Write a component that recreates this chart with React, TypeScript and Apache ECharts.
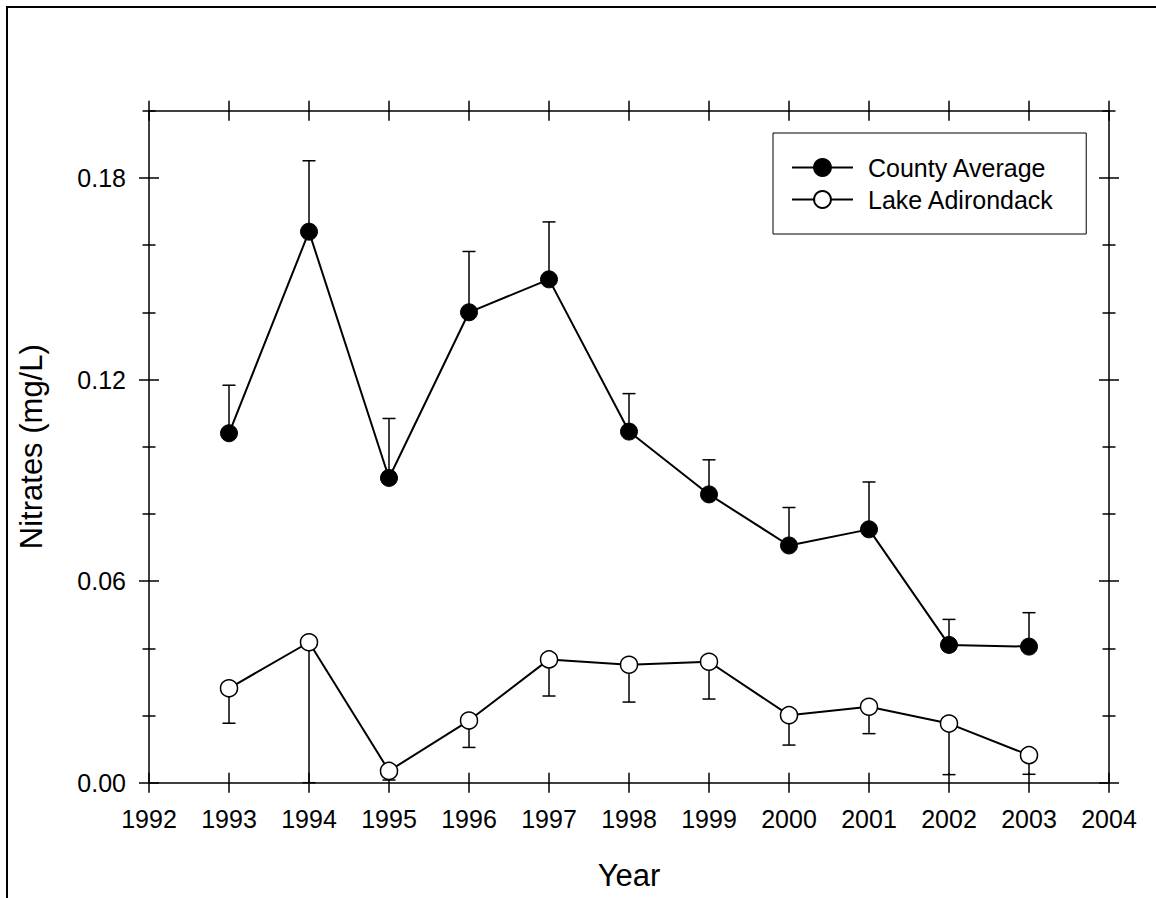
import React, { useEffect, useRef } from "react";
import * as echarts from "echarts";

const years = [1993, 1994, 1995, 1996, 1997, 1998, 1999, 2000, 2001, 2002, 2003];
const countyAvg = [0.104, 0.164, 0.0907, 0.14, 0.1498, 0.1045, 0.0858, 0.0706, 0.0754, 0.041, 0.0405];
const countyUpper = [0.1183, 0.1851, 0.1084, 0.1581, 0.1669, 0.1158, 0.0961, 0.0819, 0.0895, 0.0486, 0.0506];
const lakeAdk = [0.0281, 0.0418, 0.0035, 0.0185, 0.0367, 0.0351, 0.036, 0.0201, 0.0226, 0.0176, 0.0082];
const lakeLower = [0.0177, 0, 0.0008, 0.0105, 0.0258, 0.024, 0.0249, 0.0112, 0.0146, 0.0024, 0.0025];
const yMajorTicks = [0, 0.06, 0.12, 0.18];
const yMinorTicks = [0.02, 0.04, 0.08, 0.1, 0.14, 0.16, 0.2];

const FONT = "'Liberation Sans', Arial, sans-serif";

export default function App() {
  const ref = useRef<HTMLDivElement>(null);
  useEffect(() => {
    if (!ref.current) return;
    const chart = echarts.init(ref.current, null, { renderer: "svg" });
    const lineCol = "#000";
    const gridRect = { left: 149, right: 47, top: 110.7, bottom: 115.3, containLabel: false };
    const baseX = (g: number) => ({ type: "value", min: 1992, max: 2004, interval: 1, gridIndex: g, splitLine: { show: false } });
    const baseY = (g: number) => ({ type: "value", min: 0, max: 0.2, gridIndex: g, splitLine: { show: false } });
    const axLine = { show: true, onZero: false, lineStyle: { color: lineCol, width: 1.5 } };
    const noLine = { show: false, onZero: false };
    const noTick = { show: false };
    const noLabel = { show: false };
    const tickStyle = { color: lineCol, width: 1.5 };
    const errRender = (params: any, api: any) => {
      const x = api.value(0);
      const p0 = api.coord([x, api.value(1)]);
      const p1 = api.coord([x, api.value(2)]);
      const st = { stroke: lineCol, lineWidth: 1.5 };
      return {
        type: "group",
        children: [
          { type: "line", shape: { x1: p0[0], y1: p0[1], x2: p1[0], y2: p1[1] }, style: st },
          { type: "line", shape: { x1: p1[0] - 6.5, y1: p1[1], x2: p1[0] + 6.5, y2: p1[1] }, style: st },
        ],
      };
    };
    chart.setOption({
      animation: false,
      backgroundColor: "#fff",
      textStyle: { fontFamily: FONT },
      grid: [gridRect, gridRect, gridRect],
      graphic: [
        {
          type: "rect",
          shape: { x: 7, y: 7, width: 1300, height: 1100 },
          style: { fill: "none", stroke: "#000", lineWidth: 2 },
          silent: true,
        },
      ],
      legend: {
        orient: "vertical",
        left: 773,
        top: 133,
        padding: [22, 32, 22, 18],
        itemWidth: 61,
        itemHeight: 21,
        itemGap: 7,
        borderColor: "#000",
        borderWidth: 1,
        backgroundColor: "#fff",
        textStyle: { fontSize: 25, color: "#000", fontFamily: FONT, padding: [0, 0, 0, 10] },
        data: ["County Average", "Lake Adirondack"],
      },
      xAxis: [
        {
          ...baseX(0),
          position: "bottom",
          axisLine: axLine,
          axisTick: noTick,
          axisLabel: {
            show: true,
            fontSize: 25,
            color: "#000",
            margin: 24,
            fontFamily: FONT,
            formatter: (v: number) => String(v),
          },
          name: "Year",
          nameLocation: "middle",
          nameGap: 77,
          nameTextStyle: { fontSize: 31, color: "#000", fontFamily: FONT },
        },
        { ...baseX(0), position: "top", axisLine: axLine, axisTick: noTick, axisLabel: noLabel },
        {
          ...baseX(1),
          position: "bottom",
          offset: 10,
          axisLine: noLine,
          axisTick: { show: true, inside: true, length: 20, lineStyle: tickStyle },
          axisLabel: noLabel,
        },
        {
          ...baseX(1),
          position: "top",
          offset: 10,
          axisLine: noLine,
          axisTick: { show: true, inside: true, length: 20, lineStyle: tickStyle },
          axisLabel: noLabel,
        },
        { ...baseX(2), position: "bottom", show: false, axisLine: noLine },
      ],
      yAxis: [
        {
          ...baseY(0),
          position: "left",
          axisLine: axLine,
          axisTick: noTick,
          axisLabel: {
            show: true,
            fontSize: 25,
            color: "#000",
            margin: 23,
            fontFamily: FONT,
            customValues: yMajorTicks,
            formatter: (v: number) => v.toFixed(2),
          },
          name: "Nitrates (mg/L)",
          nameLocation: "middle",
          nameRotate: 90,
          nameGap: 102,
          nameTextStyle: { fontSize: 31, color: "#000", fontFamily: FONT },
        },
        { ...baseY(0), position: "right", axisLine: axLine, axisTick: noTick, axisLabel: noLabel },
        {
          ...baseY(1),
          position: "left",
          offset: 10,
          axisLine: noLine,
          axisTick: { show: true, inside: true, length: 20, customValues: yMajorTicks, lineStyle: tickStyle },
          axisLabel: noLabel,
        },
        {
          ...baseY(1),
          position: "right",
          offset: 10,
          axisLine: noLine,
          axisTick: { show: true, inside: true, length: 20, customValues: yMajorTicks, lineStyle: tickStyle },
          axisLabel: noLabel,
        },
        {
          ...baseY(2),
          position: "left",
          offset: 6.5,
          axisLine: noLine,
          axisTick: { show: true, inside: true, length: 13, customValues: yMinorTicks, lineStyle: tickStyle },
          axisLabel: noLabel,
        },
        {
          ...baseY(2),
          position: "right",
          offset: 6.5,
          axisLine: noLine,
          axisTick: { show: true, inside: true, length: 13, customValues: yMinorTicks, lineStyle: tickStyle },
          axisLabel: noLabel,
        },
      ],
      series: [
        {
          type: "custom",
          name: "County error",
          xAxisIndex: 0,
          yAxisIndex: 0,
          renderItem: errRender,
          data: years.map((y, i) => [y, countyAvg[i], countyUpper[i]]),
          z: 1,
          silent: true,
        },
        {
          type: "custom",
          name: "Lake error",
          xAxisIndex: 0,
          yAxisIndex: 0,
          renderItem: errRender,
          data: years.map((y, i) => [y, lakeAdk[i], lakeLower[i]]),
          z: 1,
          silent: true,
        },
        {
          type: "line",
          name: "County Average",
          xAxisIndex: 0,
          yAxisIndex: 0,
          data: years.map((y, i) => [y, countyAvg[i]]),
          symbol: "circle",
          symbolSize: 17,
          showAllSymbol: true,
          lineStyle: { color: "#000", width: 2 },
          itemStyle: { color: "#000", borderColor: "#000", borderWidth: 1 },
          z: 3,
        },
        {
          type: "line",
          name: "Lake Adirondack",
          xAxisIndex: 0,
          yAxisIndex: 0,
          data: years.map((y, i) => [y, lakeAdk[i]]),
          symbol: "circle",
          symbolSize: 17,
          showAllSymbol: true,
          lineStyle: { color: "#000", width: 2 },
          itemStyle: { color: "#fff", borderColor: "#000", borderWidth: 1.5 },
          z: 3,
        },
      ],
    });
    return () => chart.dispose();
  }, []);
  return <div ref={ref} style={{ position: "absolute", left: 0, top: 0, width: 1156, height: 898 }} />;
}
